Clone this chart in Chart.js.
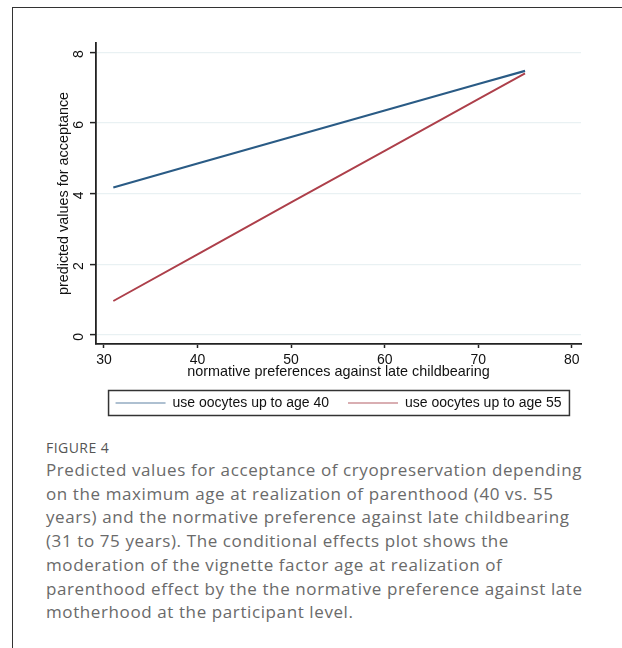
<!DOCTYPE html>
<html>
<head>
<meta charset="utf-8">
<script src="https://cdn.jsdelivr.net/npm/chart.js@4.4.1/dist/chart.umd.min.js"></script>
<style>
  html, body { margin: 0; padding: 0; background: #fff; }
  body { width: 622px; height: 648px; position: relative; overflow: hidden; }
  #frameTop { position: absolute; left: 12px; top: 7px; width: 610px; height: 0; border-top: 1.5px solid #333; }
  #frameLeft { position: absolute; left: 12px; top: 7px; width: 0; height: 641px; border-left: 1.5px solid #333; }
  #wrap { position: absolute; left: 0; top: 0; width: 622px; height: 433px; }
  #fig { position: absolute; left: 46px; top: 438px; font-family: "Open Sans", sans-serif; font-size: 14px; letter-spacing: 0.45px; color: #555; font-weight: 500; }
  #cap { position: absolute; left: 46px; top: 458px; font-family: "Open Sans", sans-serif; font-size: 17px; letter-spacing: 0.6px; line-height: 23.7px; color: #6a6a6a; white-space: nowrap; }
</style>
</head>
<body>
<div id="frameTop"></div>
<div id="frameLeft"></div>
<div id="wrap"><canvas id="c" width="622" height="433"></canvas></div>
<div id="fig">FIGURE 4</div>
<div id="cap">Predicted values for acceptance of cryopreservation depending<br>on the maximum age at realization of parenthood (40 vs. 55<br>years) and the normative preference against late childbearing<br>(31 to 75 years). The conditional effects plot shows the<br>moderation of the vignette factor age at realization of<br>parenthood effect by the the normative preference against late<br>motherhood at the participant level.</div>
<script>
// ---- data ----
const xValues = [31, 40, 50, 60, 70, 75];
const age40Values = [4.17, 4.85, 5.60, 6.35, 7.10, 7.47];
const age55Values = [0.96, 2.28, 3.75, 5.21, 6.67, 7.40];
const seriesNames = ["use oocytes up to age 40", "use oocytes up to age 55"];
const xTicks = [30, 40, 50, 60, 70, 80];
const yTicks = [0, 2, 4, 6, 8];
const xTitle = "normative preferences against late childbearing";
const yTitle = "predicted values for acceptance";

const toPoints = (ys) => xValues.map((x, i) => ({ x: x, y: ys[i] }));
const FONT = "'Liberation Sans', Arial, sans-serif";

const legendBox = {
  id: 'legendBox',
  afterDraw(chart) {
    const lg = chart.legend;
    if (!lg || !lg.legendHitBoxes || !lg.legendHitBoxes.length) return;
    const hb = lg.legendHitBoxes;
    let minX = Infinity, maxX = -Infinity, minY = Infinity, maxY = -Infinity;
    hb.forEach(h => {
      minX = Math.min(minX, h.left); maxX = Math.max(maxX, h.left + h.width);
      minY = Math.min(minY, h.top); maxY = Math.max(maxY, h.top + h.height);
    });
    const ctx = chart.ctx;
    ctx.save();
    ctx.strokeStyle = '#333';
    ctx.lineWidth = 1.5;
    const cy = (minY + maxY) / 2;
    ctx.strokeRect(minX - 7, cy - 12.5, (maxX - minX) + 15, 25);
    ctx.restore();
  }
};

new Chart(document.getElementById('c'), {
  type: 'line',
  data: {
    datasets: [
      { label: seriesNames[0], data: toPoints(age40Values), borderColor: '#2a5b85', backgroundColor: '#2a5b85', borderWidth: 2.2, pointRadius: 0, tension: 0, fill: false },
      { label: seriesNames[1], data: toPoints(age55Values), borderColor: '#ad3f4a', backgroundColor: '#ad3f4a', borderWidth: 1.9, pointRadius: 0, tension: 0, fill: false }
    ]
  },
  plugins: [legendBox],
  options: {
    responsive: false,
    animation: false,
    devicePixelRatio: 1,
    layout: { padding: { left: 55, right: 41, top: 43, bottom: 13 } },
    plugins: {
      tooltip: { enabled: false },
      legend: {
        position: 'bottom',
        fullSize: false,
        labels: {
          usePointStyle: true,
          pointStyle: 'line',
          pointStyleWidth: 50,
          padding: 19,
          color: '#111',
          font: { family: FONT, size: 14 },
          generateLabels(chart) {
            return chart.data.datasets.map((d, i) => ({
              text: d.label, fillStyle: d.borderColor, strokeStyle: i === 0 ? '#5f82a3' : '#b45e66',
              lineWidth: 1.2, pointStyle: 'line', datasetIndex: i, hidden: false, fontColor: '#111'
            }));
          }
        }
      }
    },
    scales: {
      x: {
        type: 'linear',
        min: 29.15,
        max: 80.98,
        afterBuildTicks(scale) { scale.ticks = xTicks.map(v => ({ value: v })); },
        afterFit(scale) { scale.height = 33; },
        grid: { drawOnChartArea: false, drawTicks: true, tickLength: 4, tickColor: '#222', tickWidth: 1.5 },
        border: { display: true, color: '#222', width: 1.8 },
        ticks: { color: '#111', font: { family: FONT, size: 14 }, padding: 4, maxRotation: 0, autoSkip: false },
        title: { display: true, text: xTitle, color: '#111', font: { family: FONT, size: 14.4 }, padding: { top: 0, bottom: -4 } }
      },
      y: {
        type: 'linear',
        min: -0.256,
        max: 8.26,
        afterBuildTicks(scale) { scale.ticks = yTicks.map(v => ({ value: v })); },
        afterFit(scale) { scale.width = 41; },
        grid: { drawOnChartArea: true, color: '#e9f1f3', lineWidth: 1.2, drawTicks: true, tickLength: 6, tickColor: '#222', tickWidth: 1.5 },
        border: { display: true, color: '#222', width: 1.8 },
        ticks: { color: '#111', font: { family: FONT, size: 14 }, padding: 11, labelOffset: -2, minRotation: 90, maxRotation: 90, autoSkip: false },
        title: { display: true, text: yTitle, color: '#111', font: { family: FONT, size: 14.4 }, padding: { top: 0, bottom: 0 } }
      }
    }
  }
});
</script>
</body>
</html>
